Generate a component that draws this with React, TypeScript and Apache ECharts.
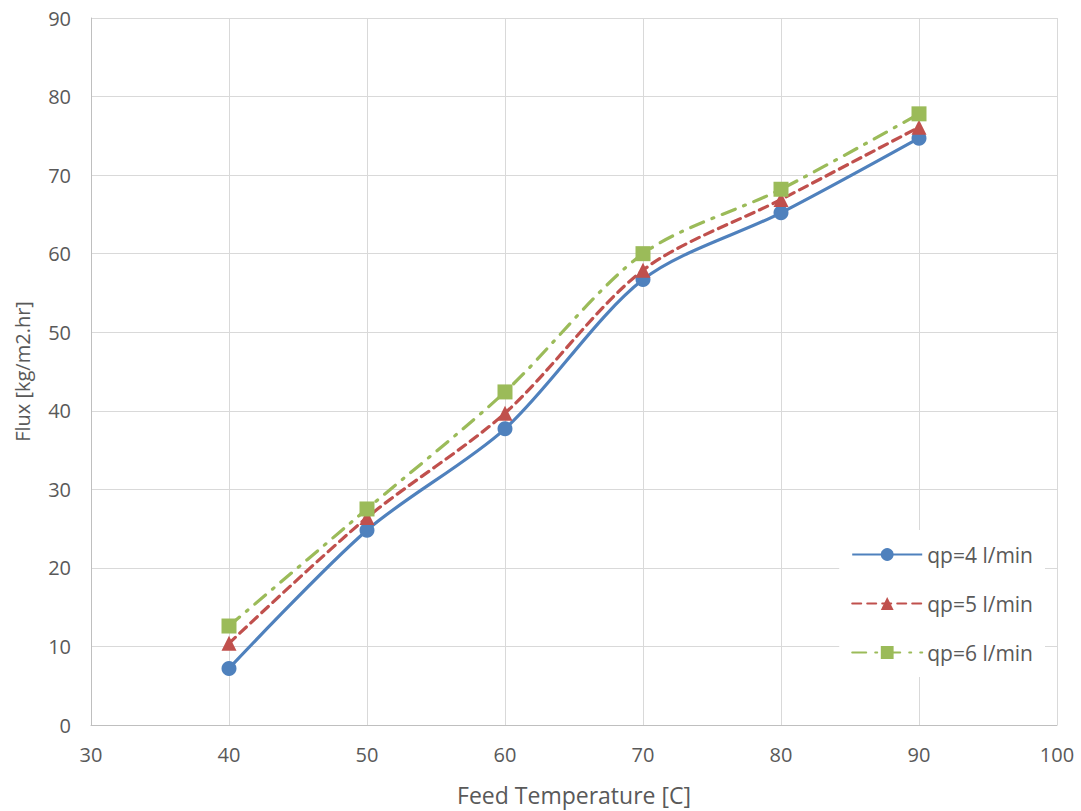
import React, { useEffect, useRef } from "react";
import * as echarts from "echarts";

const temps = [40, 50, 60, 70, 80, 90];
const flux4 = [7.2, 24.8, 37.7, 56.7, 65.2, 74.7];
const flux5 = [10.4, 26.4, 39.7, 57.9, 66.9, 76.1];
const flux6 = [12.6, 27.5, 42.4, 60.0, 68.2, 77.8];
const seriesNames = ["qp=4 l/min", "qp=5 l/min", "qp=6 l/min"];

const font = "'Open Sans', 'Noto Sans', sans-serif";
const textColor = "#595959";

export default function App() {
  const ref = useRef<HTMLDivElement>(null);
  useEffect(() => {
    if (!ref.current) return;
    const chart = echarts.init(ref.current, undefined, { renderer: "svg" });
    const pts = (ys: number[]) => temps.map((t, i) => [t, ys[i]]);
    chart.setOption({
      animation: false,
      backgroundColor: "#ffffff",
      textStyle: { fontFamily: font, color: textColor },
      grid: { left: 91, right: 24, top: 18, bottom: 84, containLabel: false },
      xAxis: {
        type: "value",
        min: 30,
        max: 100,
        interval: 10,
        name: "Feed Temperature [C]",
        nameLocation: "middle",
        nameGap: 58,
        nameTextStyle: { fontSize: 23, color: textColor, fontFamily: font },
        axisLine: { show: true, lineStyle: { color: "#bfbfbf", width: 1 } },
        axisTick: { show: false },
        axisLabel: { fontSize: 20, color: textColor, margin: 19, fontFamily: font },
        splitLine: { show: true, lineStyle: { color: "#d9d9d9", width: 1 } },
      },
      yAxis: {
        type: "value",
        min: 0,
        max: 90,
        interval: 10,
        name: "Flux [kg/m2.hr]",
        nameLocation: "middle",
        nameGap: 59,
        nameRotate: 90,
        nameTextStyle: { fontSize: 20, color: textColor, fontFamily: font },
        axisLine: { show: true, lineStyle: { color: "#bfbfbf", width: 1 } },
        axisTick: { show: false },
        axisLabel: { fontSize: 20, color: textColor, margin: 20, fontFamily: font },
        splitLine: { show: true, lineStyle: { color: "#d9d9d9", width: 1 } },
      },
      legend: {
        orient: "vertical",
        right: 36,
        top: 530,
        itemWidth: 70,
        itemHeight: 16,
        itemGap: 28,
        padding: [14, 12, 14, 12],
        backgroundColor: "#ffffff",
        textStyle: { fontSize: 21, color: textColor, fontFamily: font },
        data: seriesNames,
      },
      series: [
        {
          name: seriesNames[0],
          type: "line",
          data: pts(flux4),
          smooth: 0.3,
          symbol: "circle",
          symbolSize: 15,
          itemStyle: { color: "#4f81bd" },
          lineStyle: { color: "#4f81bd", width: 3.2, type: "solid" },
        },
        {
          name: seriesNames[1],
          type: "line",
          data: pts(flux5),
          smooth: 0.3,
          symbol: "triangle",
          symbolSize: 15,
          itemStyle: { color: "#c0504d" },
          lineStyle: { color: "#c0504d", width: 3.2, type: [9, 6], cap: "round" },
        },
        {
          name: seriesNames[2],
          type: "line",
          data: pts(flux6),
          smooth: 0.3,
          symbol: "rect",
          symbolSize: 15,
          itemStyle: { color: "#9bbb59" },
          lineStyle: { color: "#9bbb59", width: 3.2, type: [14, 9, 2, 9], cap: "round" },
        },
      ],
    });
    return () => chart.dispose();
  }, []);
  return <div ref={ref} style={{ width: 1081, height: 811, position: "absolute", left: 0, top: 0 }} />;
}
